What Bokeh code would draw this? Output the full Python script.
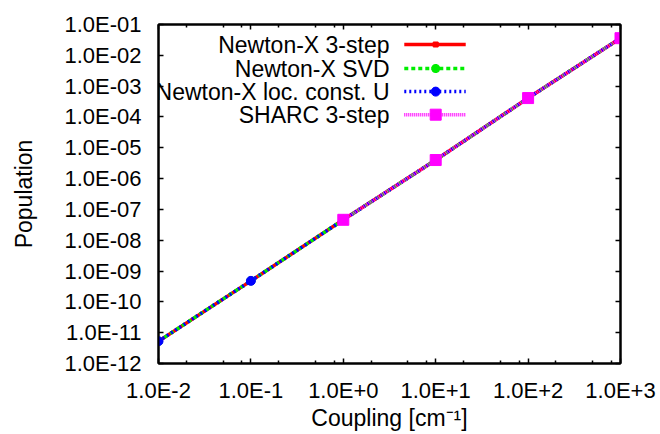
from bokeh.plotting import figure
from bokeh.models import Range1d, FixedTicker, LogAxis, CustomJSTickFormatter
from bokeh.core.properties import value
from bokeh.embed import file_html
from bokeh.resources import INLINE

# ---- data ----
coupling = [1e-2, 1e-1, 1e0, 1e1, 1e2, 1e3]
pop_nx_3step = [5.3e-12, 4.8e-10, 4.6e-8, 4.0e-6, 4.1e-4, 3.6e-2]
pop_nx_svd = [5.3e-12, 4.8e-10, 4.6e-8, 4.0e-6, 4.1e-4, 3.6e-2]
pop_nx_locu = [5.3e-12, 4.8e-10, 4.6e-8, 4.0e-6, 4.1e-4, 3.6e-2]
coupling_sharc = [1e0, 1e1, 1e2, 1e3]
pop_sharc = [4.6e-8, 4.0e-6, 4.1e-4, 3.6e-2]

series_names = ["Newton-X 3-step", "Newton-X SVD", "Newton-X loc. const. U", "SHARC 3-step"]

x_ticks = [1e-2, 1e-1, 1e0, 1e1, 1e2, 1e3]
x_tick_labels = ["1.0E-2", "1.0E-1", "1.0E+0", "1.0E+1", "1.0E+2", "1.0E+3"]
x_minor = [m * 10.0 ** e for e in range(-2, 3) for m in (2, 5, 8)]
y_ticks = [10.0 ** e for e in range(-12, 0)]
y_tick_labels = ["1.0E-12", "1.0E-11", "1.0E-10", "1.0E-09", "1.0E-08", "1.0E-07",
                 "1.0E-06", "1.0E-05", "1.0E-04", "1.0E-03", "1.0E-02", "1.0E-01"]
x_title = "Coupling [cm⁻¹]"
y_title = "Population"

XMIN, XMAX = 1e-2, 1e3
YMIN, YMAX = 1e-12, 1e-1

FONT = "Liberation Sans"
FS = "22px"
FS_BIG = "23px"

p = figure(width=660, height=434, x_axis_type="log", y_axis_type="log",
           x_range=Range1d(XMIN, XMAX), y_range=Range1d(YMIN, YMAX),
           output_backend="svg", toolbar_location=None,
           min_border_left=158, min_border_right=40, min_border_top=24, min_border_bottom=71)
p.background_fill_color = "white"
p.border_fill_color = "white"
p.grid.visible = False
p.outline_line_color = "black"
p.outline_line_width = 2

code = """
const lt = Math.log10(tick);
for (let i = 0; i < tvals.length; i++) {
  if (Math.abs(Math.log10(tvals[i]) - lt) < 1e-6) return tlabels[i];
}
return '';
"""
xfmt = CustomJSTickFormatter(args=dict(tvals=x_ticks, tlabels=x_tick_labels), code=code)
yfmt = CustomJSTickFormatter(args=dict(tvals=y_ticks, tlabels=y_tick_labels), code=code)
blank = CustomJSTickFormatter(code="return '';")

def style_axis(ax, show_labels):
    ax.axis_line_color = "black"
    ax.axis_line_width = 2
    ax.major_tick_line_color = "black"
    ax.major_tick_line_width = 1.5
    ax.minor_tick_line_color = "black"
    ax.minor_tick_line_width = 1.5
    ax.major_tick_in = 5
    ax.major_tick_out = 0
    ax.minor_tick_in = 3
    ax.minor_tick_out = 0
    ax.major_label_text_font = FONT
    ax.major_label_text_color = "black"
    if show_labels:
        ax.major_label_text_font_size = FS
    else:
        ax.major_label_standoff = 0

def style_title(ax, text, standoff):
    ax.axis_label = text
    ax.axis_label_text_font = FONT
    ax.axis_label_text_font_size = FS_BIG
    ax.axis_label_text_font_style = "normal"
    ax.axis_label_text_color = "black"
    ax.axis_label_standoff = standoff

xa = p.xaxis[0]
xa.ticker = FixedTicker(ticks=x_ticks, minor_ticks=x_minor)
xa.formatter = xfmt
style_axis(xa, True)
xa.major_label_standoff = 14
style_title(xa, x_title, -1)

ya = p.yaxis[0]
ya.ticker = FixedTicker(ticks=y_ticks, minor_ticks=[])
ya.formatter = yfmt
style_axis(ya, True)
ya.major_label_standoff = 17
style_title(ya, y_title, 24)

top = LogAxis(ticker=FixedTicker(ticks=x_ticks, minor_ticks=x_minor), formatter=blank)
style_axis(top, False)
p.add_layout(top, "above")
right = LogAxis(ticker=FixedTicker(ticks=y_ticks, minor_ticks=[]), formatter=blank)
style_axis(right, False)
p.add_layout(right, "right")

# ---- series ----
styles = [
    dict(color="#ff0000", dash="solid", marker="square", size=5),
    dict(color="#00ee00", dash="4 3", marker="asterisk", size=9),
    dict(color="#0000ff", dash="2 3", marker="circle", size=9),
    dict(color="#ff00ff", dash="1 1", marker="square", size=11),
]
xs_all = [coupling, coupling, coupling, coupling_sharc]
ys_all = [pop_nx_3step, pop_nx_svd, pop_nx_locu, pop_sharc]

for st, xs, ys in zip(styles, xs_all, ys_all):
    p.line(xs, ys, line_color=st["color"], line_width=3.5, line_dash=st["dash"])
    if st["marker"] == "asterisk":
        p.scatter(xs, ys, marker="asterisk", size=st["size"], line_color=st["color"], line_width=3)
        p.scatter(xs, ys, marker="circle", size=6, fill_color=st["color"], line_color=st["color"])
    else:
        p.scatter(xs, ys, marker=st["marker"], size=st["size"], fill_color=st["color"],
                  line_color=st["color"])

# ---- legend (drawn manually: label on left, sample on right) ----
def fx(f):
    return 10 ** (-2 + 5 * f)

def fy(f):
    return 10 ** (-1 - 11 * f)

rows = [0.059, 0.130, 0.198, 0.266]
for name, st, r in zip(series_names, styles, rows):
    yy = fy(r)
    p.text([fx(0.5)], [yy], text=[name], text_align="right", text_baseline="middle",
           text_font=value(FONT), text_font_size=FS_BIG, text_color="black")
    p.line([fx(0.532), fx(0.665)], [yy, yy], line_color=st["color"], line_width=3.5,
           line_dash=st["dash"])
    if st["marker"] == "asterisk":
        p.scatter([fx(0.6)], [yy], marker="asterisk", size=st["size"], line_color=st["color"], line_width=3)
        p.scatter([fx(0.6)], [yy], marker="circle", size=6, fill_color=st["color"], line_color=st["color"])
    else:
        p.scatter([fx(0.6)], [yy], marker=st["marker"], size=st["size"], fill_color=st["color"],
                  line_color=st["color"])

open("out.html", "w").write(file_html(p, INLINE))
